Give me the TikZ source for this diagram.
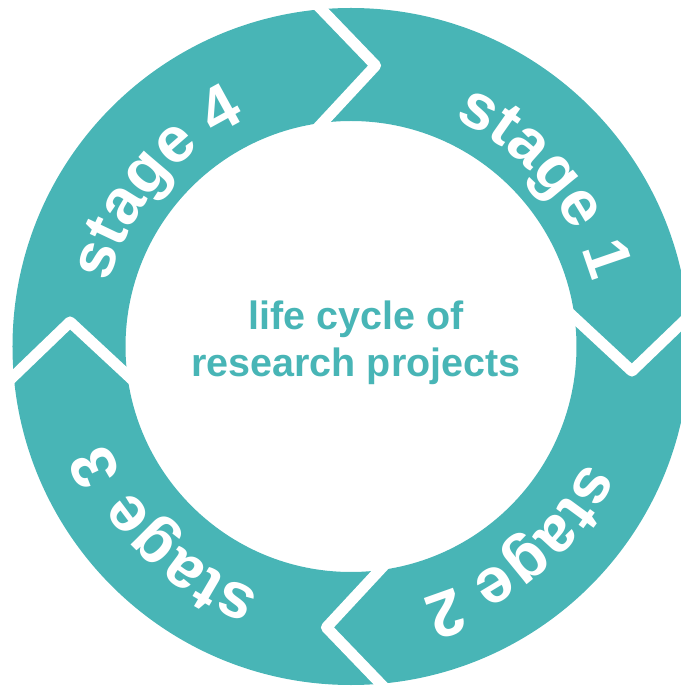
\documentclass[tikz,border=0pt]{standalone}
\usepackage{fontspec}
\setmainfont{Liberation Sans}
\usetikzlibrary{decorations.text}
\definecolor{ringteal}{RGB}{72,181,182}
\newcommand{\stagefont}{\fontsize{64}{64}\selectfont\bfseries}

\begin{document}
\begin{tikzpicture}[x=1pt, y=1pt,
    ring/.style = {fill=ringteal, even odd rule},% the teal band
    sepline/.style = {draw=white, line width=11pt, line join=round},
    stagelabel/.style = {decorate, decoration={text along path,
                text align={fit to path}, text color=white, text={#1}}},
    title/.style = {anchor=base, text=ringteal, inner sep=0pt,
                font=\fontsize{39.5}{47}\selectfont\bfseries},
                    ]
\useasboundingbox (-351,-341.5) rectangle (329,346.5);
\coordinate (O) at (0,0);
\path[ring] (O) circle (338.5) (O) circle (225.5);
% chevrons between the stages
\foreach \r in {0,-90,-180,-270}% <-- turn of each chevron
    \draw[sepline, rotate=\r] (-40,348) -- (85:282) -- (-40,211.4);
% stage names along the ring
\path[stagelabel={|\stagefont|stage 1}] (65.55:250) arc[start angle=65.55, end angle=14.85, radius=250];
\path[stagelabel={|\stagefont|stage 2}] (-26.15:262) arc[start angle=-26.15, end angle=-74.05, radius=262];
\path[stagelabel={|\stagefont|stage 3}] (-110.3:262) arc[start angle=-110.3, end angle=-158.7, radius=262];
\path[stagelabel={|\stagefont|stage 4}] (165.3:250) arc[start angle=165.3, end angle=116.5, radius=250];
% centre text
\node[title] (title1) at (5,16.5) {life cycle of};
\node[title] (title2) at (5,-30.5) {research projects};
\end{tikzpicture}
\end{document}
